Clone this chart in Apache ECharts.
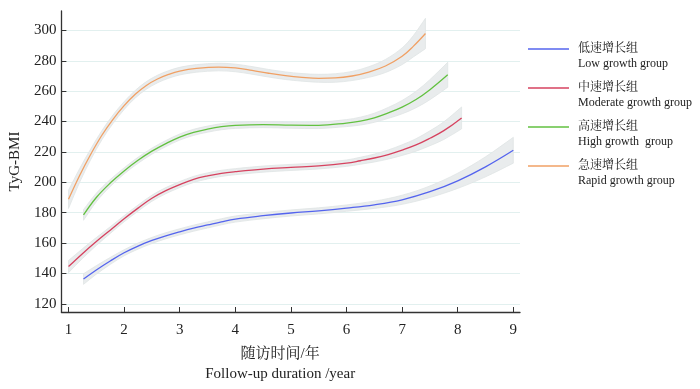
<!DOCTYPE html>
<html>
<head>
<meta charset="utf-8">
<script src="https://cdn.jsdelivr.net/npm/echarts@6/dist/echarts.min.js"></script>
<style>html,body{margin:0;padding:0;background:#fff}#c{width:700px;height:389px}</style>
</head>
<body>
<div id="c"></div>
<script>
// ---- data ----
const xTicks = [1, 2, 3, 4, 5, 6, 7, 8, 9];
const yTicks = [120, 140, 160, 180, 200, 220, 240, 260, 280, 300];

const groupNamesCN = ['低速增长组', '中速增长组', '高速增长组', '急速增长组'];
const groupNamesEN = ['Low growth group', 'Moderate growth group', 'High growth  group', 'Rapid growth group'];

const lowX  = [1.27, 1.5, 1.75, 2.0, 2.25, 2.5, 2.75, 3.0, 3.25, 3.5, 3.75, 4.0, 4.5, 5.0, 5.5, 6.0, 6.5, 7.0, 7.5, 8.0, 8.5, 9.0];
const lowY  = [136.3, 142.3, 148.2, 153.6, 158, 161.7, 164.8, 167.4, 169.8, 171.9, 174, 175.8, 178, 179.8, 181.2, 183, 185.2, 188.5, 193.8, 201, 210.2, 221.1];
const lowCI = [3.5, 2.8, 2.3, 2, 2, 2, 2, 2, 2, 2, 2, 2, 2, 2, 2, 2.1, 2.4, 3, 3.8, 5, 6.6, 8.5];

const modX  = [1.0, 1.25, 1.5, 1.75, 2.0, 2.25, 2.5, 2.75, 3.0, 3.25, 3.5, 3.75, 4.0, 4.5, 5.0, 5.5, 6.0, 6.25, 6.5, 6.75, 7.0, 7.25, 7.5, 7.75, 8.07];
const modY  = [144.5, 153, 161, 168.5, 176, 183, 189.5, 194.5, 198.5, 201.9, 204.2, 205.9, 207, 208.7, 209.8, 210.8, 212.6, 214.2, 216, 218.3, 221.2, 224.6, 229, 234, 242.4];
const modCI = [4, 3.2, 2.6, 2.2, 2, 2, 2, 2, 2, 2, 2, 2, 2, 2, 2, 2, 2.1, 2.3, 2.6, 3, 3.5, 4.1, 4.9, 5.8, 7.2];

const highX  = [1.27, 1.5, 1.75, 2.0, 2.25, 2.5, 2.75, 3.0, 3.25, 3.5, 3.75, 4.0, 4.5, 5.0, 5.5, 6.0, 6.25, 6.5, 6.75, 7.0, 7.25, 7.5, 7.82];
const highY  = [178.5, 190, 199.5, 207.5, 214.5, 220.5, 225.5, 229.8, 232.9, 235, 236.6, 237.5, 238, 237.6, 237.5, 239, 240.3, 242.5, 245.7, 249.5, 254.5, 261, 270.8];
const highCI = [3.5, 2.8, 2.3, 2, 2, 2, 2, 2, 2, 2, 2, 2, 2, 2, 2.1, 2.3, 2.6, 3, 3.6, 4.4, 5.4, 6.6, 8.2];

const rapidX  = [1.0, 1.2, 1.4, 1.6, 1.8, 2.0, 2.2, 2.4, 2.6, 2.8, 3.0, 3.3, 3.7, 4.0, 4.3, 4.6, 4.9, 5.2, 5.5, 5.8, 6.1, 6.4, 6.7, 7.0, 7.2, 7.42];
const rapidY  = [188.8, 204.5, 218.5, 231, 241.5, 250.5, 258, 263.8, 268, 271, 273.2, 275, 275.9, 275.3, 273.7, 271.8, 270.2, 269.1, 268.5, 268.7, 270, 272.6, 276.6, 283, 289.5, 298];
const rapidCI = [6, 4.5, 3.5, 3, 2.8, 2.6, 2.5, 2.5, 2.5, 2.5, 2.5, 2.5, 2.5, 2.5, 2.5, 2.5, 2.5, 2.5, 2.6, 2.8, 3, 3.5, 4.3, 5.5, 7, 10];

// ---- build ----
const colors = ['#5464ee', '#d6425f', '#62c140', '#f0a064'];
const groups = [
  [lowX, lowY, lowCI],
  [modX, modY, modCI],
  [highX, highY, highCI],
  [rapidX, rapidY, rapidCI]
];
const serif = '"Liberation Serif", "Times New Roman", "Noto Serif CJK SC", "Noto Sans CJK SC", serif';
const enMap = {};
groupNamesCN.forEach((n, i) => enMap[n] = groupNamesEN[i]);

const series = [];
groups.forEach((g, i) => {
  const [xs, ys, ci] = g;
  series.push({
    type: 'custom', silent: true, z: 1, clip: true,
    encode: { x: 0, y: [1, 2] },
    data: xs.map((x, k) => [x, ys[k] - ci[k], ys[k] + ci[k]]),
    renderItem: function (params, api) {
      if (params.dataIndex !== 0) return;
      const n = xs.length;
      const pts = [];
      for (let k = 0; k < n; k++) {
        const p = api.coord([xs[k], ys[k] + ci[k]]);
        pts.push(p);
        if (k === 0 || k === n - 1) pts.push(p.slice()); // sharp corners at the band ends
      }
      for (let k = n - 1; k >= 0; k--) {
        const p = api.coord([xs[k], ys[k] - ci[k]]);
        pts.push(p);
        if (k === 0 || k === n - 1) pts.push(p.slice());
      }
      return {
        type: 'polygon',
        shape: { points: pts, smooth: 0.35 },
        style: { fill: '#e9eced', stroke: '#dfe4e5', lineWidth: 0.8 }
      };
    }
  });
});
groups.forEach((g, i) => {
  const [xs, ys] = g;
  series.push({
    name: groupNamesCN[i], type: 'line', symbol: 'none', showSymbol: false, smooth: 0.4, z: 5,
    lineStyle: { width: 1.3, color: colors[i] }, itemStyle: { color: colors[i] },
    data: xs.map((x, k) => [x, ys[k]])
  });
});

const chart = echarts.init(document.getElementById('c'), null, { renderer: 'canvas' });
chart.setOption({
  animation: false,
  backgroundColor: '#ffffff',
  grid: { left: 57, right: 180, top: 11, bottom: 76, containLabel: false },
  legend: {
    data: groupNamesCN, orient: 'vertical', left: 528, top: 26.5, padding: 0,
    icon: 'rect', itemWidth: 41, itemHeight: 1.5, itemGap: -6,
    formatter: n => '\n' + n + '\n' + enMap[n],
    textStyle: { fontFamily: serif, fontSize: 12, lineHeight: 15, color: '#222', padding: [0, 0, 0, 4] }
  },
  xAxis: {
    type: 'value', min: 0.872, max: 9.12,
    name: '随访时间/年\nFollow-up duration /year', nameLocation: 'middle', nameGap: 32,
    nameTextStyle: { fontFamily: serif, fontSize: 15, lineHeight: 20, color: '#222', padding: [0, 21, 0, 0] },
    axisLine: { lineStyle: { color: '#333', width: 1.3 } },
    axisTick: { inside: true, length: 5, customValues: xTicks, lineStyle: { color: '#333' } },
    axisLabel: { customValues: xTicks, margin: 11, fontFamily: serif, fontSize: 15, color: '#222' },
    splitLine: { show: false }
  },
  yAxis: {
    type: 'value', min: 114.6, max: 312.8,
    name: 'TyG-BMI', nameLocation: 'middle', nameGap: 37,
    nameTextStyle: { fontFamily: serif, fontSize: 15, color: '#222' },
    axisLine: { show: true, lineStyle: { color: '#333', width: 1.3 } },
    axisTick: { show: true, inside: true, length: 5, customValues: yTicks, lineStyle: { color: '#333' } },
    axisLabel: { customValues: yTicks, margin: 5, fontFamily: serif, fontSize: 15, color: '#222' },
    splitLine: { show: true, lineStyle: { color: '#e2f0ef', width: 1.2 } }
  },
  series: series
});
</script>
</body>
</html>
